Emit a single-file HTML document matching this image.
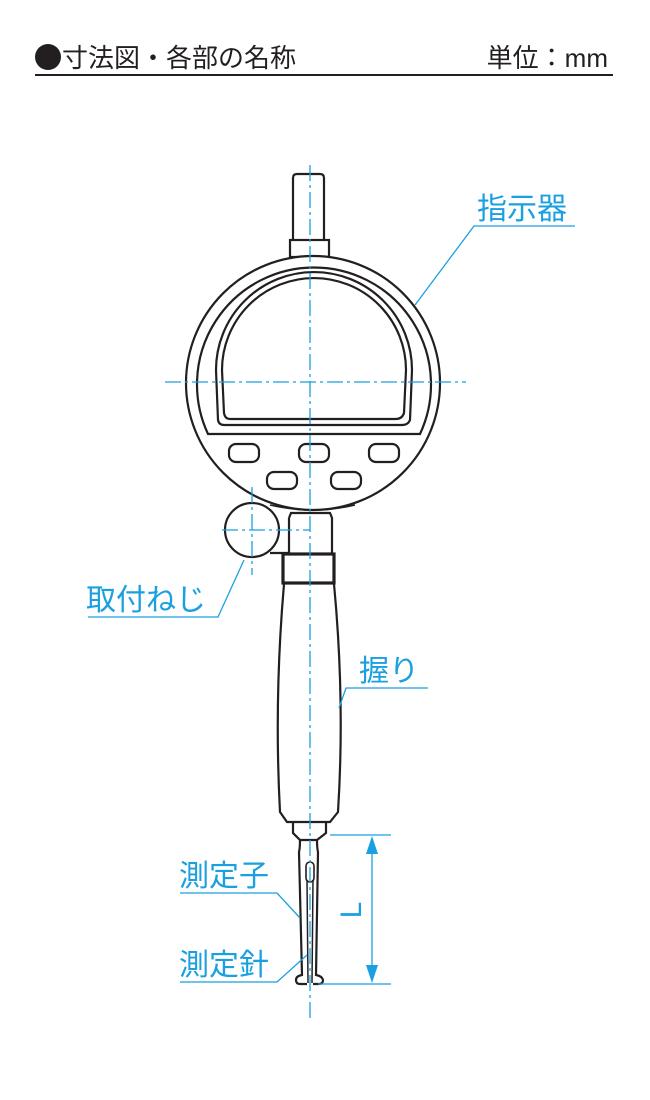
<!DOCTYPE html>
<html><head><meta charset="utf-8"><style>
html,body{margin:0;padding:0;background:#fff;}
svg{display:block;}
.t{font-family:"Liberation Sans","Noto Sans CJK JP",sans-serif;}
</style></head><body>
<svg width="650" height="1100" viewBox="0 0 650 1100" xmlns="http://www.w3.org/2000/svg">
<circle cx="48" cy="57" r="13" fill="#231f20"/>
<text class="t" x="62" y="67" font-size="26" fill="#231f20">寸法図・各部の名称</text>
<text class="t" x="608" y="67" font-size="26" fill="#231f20" text-anchor="end">単位：mm</text>
<line x1="35" y1="75" x2="613" y2="75" stroke="#231f20" stroke-width="2"/>

<g fill="none" stroke="#231f20" stroke-width="2.2">
 <path d="M293,240 L293,178 Q293,174 297,174 L320,174 Q324,174 324,178 L324,240"/>
 <rect x="290" y="240" width="39" height="17"/>
 <circle cx="313" cy="383" r="127" fill="#fff"/>
 <path d="M208,434 A117,117 0 1 1 420,434 Z"/>
 <path d="M218,420 L216,370 A97,97 0 0 1 412,370 L410,420 Q408,425 402,425 L224,425 Q219,425 218,420 Z"/>
 <path d="M224,413 L222,370 A91,91 0 0 1 406,370 L404,413 Q402,419 396,419 L230,419 Q225,419 224,413 Z"/>
 <rect x="229" y="444" width="30" height="18" rx="7"/>
 <rect x="299" y="444" width="30" height="18" rx="7"/>
 <rect x="369" y="444" width="30" height="18" rx="7"/>
 <rect x="267" y="472" width="30" height="17" rx="7"/>
 <rect x="331" y="472" width="30" height="17" rx="7"/>
 <path d="M270,505 Q313,515 355,505" stroke-width="1.5"/>
 <path d="M289,518 L291,513 L330,513 L332,518 L332,553 M289,518 L289,553"/>
 <circle cx="252" cy="530" r="27" fill="#fff"/>
 <line x1="270" y1="553" x2="290" y2="553"/>
 <rect x="283" y="554" width="51" height="29" stroke-width="3.2"/>
 <path d="M284,584 Q274,700 280,812 L287,822 L330,822 L338,812 Q345,700 334,584"/>
 <path d="M293,823 L293,833 L300,840 L317,840 L326,833 L326,823"/>
 <path d="M300,840 Q300,848 299,852 L302,975 Q296,976 296,980 Q296,984 300,984 L307,984"/>
 <path d="M317,840 Q317,848 318,852 L316,975 Q322,976 323,980 Q323,984 319,984 L313,984"/>
 <rect x="306" y="862" width="8" height="20" rx="4" stroke-width="1.6"/>
 <path d="M307,880 L308,983 M313,880 L312,983" stroke-width="1.5"/>
</g>

<g stroke="#1aa0e0" stroke-width="1.3" fill="none">
 <line x1="310" y1="165" x2="310" y2="1022" stroke-dasharray="16,4,3,4"/>
 <line x1="165" y1="382" x2="466" y2="382" stroke-dasharray="16,4,3,4"/>
 <line x1="222" y1="530" x2="310" y2="530" stroke-dasharray="16,4,3,4"/>
 <line x1="252" y1="487" x2="252" y2="575" stroke-dasharray="16,4,3,4"/>
 <polyline points="415,305 474,226 575,226"/>
 <polyline points="244,560 218,617 88,617"/>
 <polyline points="339,708 346,688 428,688"/>
 <polyline points="300,918 277,893 180,893"/>
 <polyline points="307,955 277,982 180,982"/>
 <line x1="330" y1="835" x2="391" y2="835"/>
 <line x1="318" y1="984" x2="391" y2="984"/>
 <line x1="372" y1="850" x2="372" y2="970"/>
</g>
<polygon points="372,836 366,854 378,854" fill="#1aa0e0"/>
<polygon points="372,983 366,965 378,965" fill="#1aa0e0"/>

<g class="t" fill="#1aa0e0" font-size="30">
 <text x="477" y="219">指示器</text>
 <text x="86" y="610">取付ねじ</text>
 <text x="359" y="681">握り</text>
 <text x="179" y="886">測定子</text>
 <text x="179" y="975">測定針</text>
 <text x="0" y="0" transform="translate(361,910) rotate(-90)" text-anchor="middle">L</text>
</g>
</svg>
</body></html>
